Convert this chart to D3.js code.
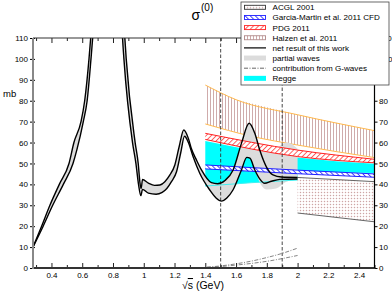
<!DOCTYPE html>
<html>
  <head>
    <meta charset="utf-8">
    <title>sigma(0)</title>
    <script src="https://d3js.org/d3.v7.min.js"></script>
    <style>
      body { margin: 0; background: #fff; }
      svg { display: block; font-family: "Liberation Sans", Arial, sans-serif; }
      .tick text { font-size: 8px; fill: #000; }
    </style>
  </head>
  <body>
    <svg id="chart" width="392" height="294"></svg>
    <script>
      // net result of this work: upper / lower boundary [sqrt(s) GeV, mb]
      const netUpper = [[0.28,10],[0.336,20],[0.39,30],[0.451,40],[0.514,50],[0.546,60],[0.592,70],[0.616,80],[0.644,100],[0.655,110],[0.70,170],[0.77,220],[0.84,160],[0.877,110],[0.886,100],[0.944,60],[0.964,50],[0.975,41],[0.983,38],[0.992,42.3],[1.03,40.6],[1.07,39.5],[1.105,39.7],[1.137,41.3],[1.17,44.5],[1.202,49.3],[1.23,58],[1.26,66],[1.29,62],[1.31,57],[1.343,51.6],[1.375,46.9],[1.44,40.8],[1.48,40.3],[1.53,42],[1.581,46.9],[1.635,59.6],[1.685,69.2],[1.722,64.4],[1.754,56.4],[1.797,48.4],[1.84,44.5],[1.895,43.5],[2.0,43.3]];
      const netLower = [[0.28,10],[0.346,20],[0.408,30],[0.477,40],[0.54,50],[0.565,56.5],[0.607,70],[0.632,80],[0.657,100],[0.668,110],[0.71,165],[0.775,210],[0.84,150],[0.862,110],[0.871,100],[0.927,60],[0.949,50],[0.966,40],[0.981,34.6],[0.992,37.6],[1.03,35.8],[1.08,35.3],[1.12,36.2],[1.15,38],[1.18,41.3],[1.213,46],[1.24,55],[1.265,63],[1.29,60],[1.321,53.2],[1.364,45.3],[1.429,37.3],[1.47,33.5],[1.505,32],[1.54,33.5],[1.58,37.3],[1.635,46.9],[1.67,52.9],[1.69,52.5],[1.722,46.9],[1.755,42.5],[1.786,40.5],[1.83,41.5],[1.884,42.4],[2.0,42.6]];
      // partial waves band: follows the net band, then these tails up to 2 GeV
      const pwUpperTail = [[1.75,58],[1.8,57],[1.86,57.5],[1.93,60],[1.97,59],[2.0,57]];
      const pwLowerTail = [[1.76,40],[1.8,37.5],[1.86,38],[1.92,41],[2.0,42.6]];
      // other determinations
      const halzenTop = [[1.4,87.5],[1.6,80.5],[2.0,73.3],[2.5,65.7]];
      const halzenBottom = [[1.4,68.9],[1.7,63],[2.0,58.8],[2.5,52.8]];
      const pdgTop = [[1.4,64.4],[2.0,56.4],[2.5,52]];
      const pdgBottom = [[1.4,61.5],[2.0,53.3],[2.5,50.3]];
      const gmTop = [[1.4,49.3],[2.0,46.8],[2.5,45]];
      const gmBottom = [[1.4,47.4],[2.0,45.1],[2.5,43.4]];
      const reggeTop = [[1.4,60.7],[1.7,56.3],[2.0,52.8],[2.25,51.1],[2.5,49.8]];
      const reggeBottom = [[1.4,39.2],[1.7,40.8],[2.0,42.1],[2.0,46.0],[2.25,45.7],[2.5,45.4]];
      const acglTop = [[2.0,43.3],[2.5,41.3]];
      const acglBottom = [[2.0,26.3],[2.5,22.1]];
      const gUpper = [[1.41,0.4],[1.5,1.0],[1.6,2.0],[1.7,3.3],[1.8,5.0],[1.9,7.0],[2.0,9.5]];
      const gLower = [[1.41,0.3],[1.5,0.7],[1.6,1.4],[1.7,2.2],[1.8,3.2],[1.9,4.5],[2.0,6.0]];
      const markers = [1.5, 1.9];
      // axes
      const xMajor = [0.4,0.6,0.8,1,1.2,1.4,1.6,1.8,2,2.2,2.4];
      const xMinor = [0.3,0.5,0.7,0.9,1.1,1.3,1.5,1.7,1.9,2.1,2.3,2.5];
      const yTicks = [0,10,20,30,40,50,60,70,80,90,100,110];
      const legendItems = ["ACGL 2001","Garcia-Martin et al. 2011 CFD","PDG 2011","Halzen et al. 2011","net result of this work","partial waves","contribution from G-waves","Regge"];

      const svg = d3.select("#chart");
      const pLeft = 33, pRight = 374.5, pTop = 38, pBottom = 268;
      const x = d3.scaleLinear().domain([0.28, 2.5]).range([pLeft, pRight]);
      const y = d3.scaleLinear().domain([0, 110]).range([pBottom, pTop]);
      const smooth = d3.line().x(function(d) { return x(d[0]); }).y(function(d) { return y(d[1]); }).curve(d3.curveMonotoneX);
      const straight = d3.line().x(function(d) { return x(d[0]); }).y(function(d) { return y(d[1]); });
      function band(gen, up, low) {
        return gen(up) + gen(low.slice().reverse()).replace(/^M/, "L") + "Z";
      }

      // patterns
      const defs = svg.append("defs");
      defs.append("clipPath").attr("id", "plot")
        .append("rect").attr("x", pLeft).attr("y", pTop).attr("width", pRight - pLeft).attr("height", pBottom - pTop);
      function hatch(id, color, angle, size, width) {
        let p = defs.append("pattern").attr("id", id).attr("patternUnits", "userSpaceOnUse")
          .attr("width", size).attr("height", size).attr("patternTransform", "rotate(" + angle + ")");
        p.append("rect").attr("width", size).attr("height", size).attr("fill", "#fff");
        p.append("line").attr("x1", 0.5).attr("y1", 0).attr("x2", 0.5).attr("y2", size)
          .attr("stroke", color).attr("stroke-width", width);
      }
      hatch("pdgH", "#ff5050", 45, 3.6, 0.9);
      hatch("gmH", "#3030ff", -45, 3.6, 0.9);
      hatch("halH", "#c9a2a2", 0, 3, 0.9);
      const ac = defs.append("pattern").attr("id", "acglH").attr("patternUnits", "userSpaceOnUse")
        .attr("width", 3).attr("height", 3);
      ac.append("rect").attr("width", 3).attr("height", 3).attr("fill", "#fff");
      ac.append("path").attr("d", "M0,0.5H3M0.5,0V3").attr("stroke", "#f0e2e2").attr("stroke-width", 0.5);
      ac.append("rect").attr("width", 0.9).attr("height", 0.9).attr("fill", "#c49494");

      const plot = svg.append("g").attr("clip-path", "url(#plot)");

      // Halzen et al.
      plot.append("path").attr("d", band(straight, halzenTop, halzenBottom)).attr("fill", "url(#halH)");
      plot.append("path").attr("d", smooth(halzenTop)).attr("fill", "none").attr("stroke", "#ffb84d").attr("stroke-width", 1);
      plot.append("path").attr("d", smooth(halzenBottom)).attr("fill", "none").attr("stroke", "#ffb84d").attr("stroke-width", 1);
      // Regge
      plot.append("path").attr("d", band(straight, reggeTop, reggeBottom)).attr("fill", "#00ffff");
      // partial waves
      const pwUpper = netUpper.filter(function(d) { return d[0] <= 1.722; }).concat(pwUpperTail);
      const pwLower = netLower.filter(function(d) { return d[0] <= 1.722; }).concat(pwLowerTail);
      plot.append("path").attr("d", band(smooth, pwUpper, pwLower)).attr("fill", "#dcdcdc");
      plot.append("path").attr("d", straight(reggeBottom.filter(function(d, i) { return i < 3; })))
        .attr("fill", "none").attr("stroke", "#40f0f0").attr("stroke-width", 1);
      // ACGL
      plot.append("path").attr("d", band(straight, acglTop, acglBottom)).attr("fill", "url(#acglH)");
      plot.append("path").attr("d", straight(acglTop)).attr("fill", "none").attr("stroke", "#555").attr("stroke-width", 0.9);
      plot.append("path").attr("d", straight(acglBottom)).attr("fill", "none").attr("stroke", "#555").attr("stroke-width", 0.9);
      // PDG
      plot.append("path").attr("d", band(smooth, pdgTop, pdgBottom)).attr("fill", "url(#pdgH)");
      plot.append("path").attr("d", smooth(pdgTop)).attr("fill", "none").attr("stroke", "#ff2020").attr("stroke-width", 1);
      plot.append("path").attr("d", smooth(pdgBottom)).attr("fill", "none").attr("stroke", "#ff2020").attr("stroke-width", 1);
      // Garcia-Martin
      plot.append("path").attr("d", band(smooth, gmTop, gmBottom)).attr("fill", "url(#gmH)");
      plot.append("path").attr("d", smooth(gmTop)).attr("fill", "none").attr("stroke", "#2020ff").attr("stroke-width", 1);
      plot.append("path").attr("d", smooth(gmBottom)).attr("fill", "none").attr("stroke", "#2020ff").attr("stroke-width", 1);
      // G-waves
      [gUpper, gLower].forEach(function(g) {
        plot.append("path").attr("d", smooth(g)).attr("fill", "none").attr("stroke", "#777")
          .attr("stroke-width", 0.9).attr("stroke-dasharray", "4,1.5,1,1.5");
      });
      // markers
      plot.selectAll(".marker").data(markers).enter().append("line")
        .attr("x1", function(d) { return x(d); }).attr("x2", function(d) { return x(d); })
        .attr("y1", pTop).attr("y2", pBottom)
        .attr("stroke", "#333").attr("stroke-width", 0.9).attr("stroke-dasharray", "3.5,2");
      // net result
      [netUpper, netLower].forEach(function(n) {
        plot.append("path").attr("d", smooth(n)).attr("fill", "none").attr("stroke", "#000").attr("stroke-width", 1.4);
      });

      // axes
      function xAxis(gen, vals, size, ty, labels) {
        let g = svg.append("g").attr("transform", "translate(0," + ty + ")")
          .call(gen(x).tickValues(vals).tickSize(size).tickPadding(4.5).tickFormat(labels ? d3.format("~g") : ""));
        g.select(".domain").remove();
        g.selectAll("line").attr("stroke", "#222");
        return g;
      }
      xAxis(d3.axisBottom, xMajor, -5, pBottom, true);
      xAxis(d3.axisBottom, xMinor, -3, pBottom, false);
      xAxis(d3.axisTop, xMajor, -5, pTop, false);
      xAxis(d3.axisTop, xMinor, -3, pTop, false);
      const gl = svg.append("g").attr("transform", "translate(" + (pLeft + 2) + ",0)")
        .call(d3.axisLeft(y).tickValues(yTicks).tickSize(5).tickPadding(2));
      gl.select(".domain").remove();
      const gr = svg.append("g").attr("transform", "translate(" + pRight + ",0)")
        .call(d3.axisRight(y).tickValues(yTicks).tickSize(3).tickPadding(1.5));
      gr.select(".domain").remove();
      svg.append("line").attr("x1", pLeft).attr("x2", pRight).attr("y1", pTop).attr("y2", pTop).attr("stroke", "#333").attr("stroke-width", 1.2);
      svg.append("line").attr("x1", pLeft).attr("x2", pRight + 0.7).attr("y1", pBottom).attr("y2", pBottom).attr("stroke", "#333").attr("stroke-width", 2);
      svg.append("line").attr("x1", pRight).attr("x2", pRight).attr("y1", pTop).attr("y2", pBottom).attr("stroke", "#000").attr("stroke-width", 1.2);
      svg.append("line").attr("x1", pLeft).attr("x2", pLeft).attr("y1", pTop).attr("y2", pBottom + 1).attr("stroke", "#888").attr("stroke-width", 2);

      // titles
      svg.append("text").attr("x", 191.5).attr("y", 20).attr("font-size", 14).text("σ");
      svg.append("text").attr("x", 201).attr("y", 11).attr("font-size", 10).text("(0)");
      svg.append("text").attr("x", 3).attr("y", 96.5).attr("font-size", 9.5).text("mb");
      const xl = svg.append("text").attr("x", 182).attr("y", 289).attr("font-size", 10.5);
      xl.append("tspan").text("√");
      xl.append("tspan").attr("text-decoration", "overline").text("s");
      xl.append("tspan").text("  (GeV)");

      // legend
      const lg = svg.append("g").attr("transform", "translate(241,2)");
      lg.append("rect").attr("width", 148).attr("height", 83).attr("fill", "#fff").attr("stroke", "#444").attr("stroke-width", 0.8);
      const fills = ["url(#acglH)", "url(#gmH)", "url(#pdgH)", "url(#halH)"];
      const strokes = ["#333", "#2020ff", "#ff2020", "#b08a8a"];
      legendItems.forEach(function(t, i) {
        let cy = 5.3 + i * 10.15;
        let item = lg.append("g").attr("transform", "translate(0," + cy + ")");
        if (i < 4) {
          item.append("rect").attr("x", 3.5).attr("y", -2).attr("width", 21).attr("height", 4)
            .attr("fill", fills[i]).attr("stroke", strokes[i]).attr("stroke-width", 0.9);
        } else if (i == 4) {
          item.append("line").attr("x1", 3).attr("x2", 25).attr("stroke", "#000").attr("stroke-width", 1.2);
        } else if (i == 5) {
          item.append("rect").attr("x", 3).attr("y", -2.5).attr("width", 22).attr("height", 5).attr("fill", "#dcdcdc");
        } else if (i == 6) {
          item.append("line").attr("x1", 3).attr("x2", 25).attr("stroke", "#555").attr("stroke-width", 0.9).attr("stroke-dasharray", "4,1.5,1,1.5");
        } else {
          item.append("rect").attr("x", 3).attr("y", -2.5).attr("width", 22).attr("height", 5).attr("fill", "#00ffff");
        }
        item.append("text").attr("x", 31.5).attr("y", 3).attr("font-size", 8.1).text(t);
      });
    </script>
  </body>
</html>
